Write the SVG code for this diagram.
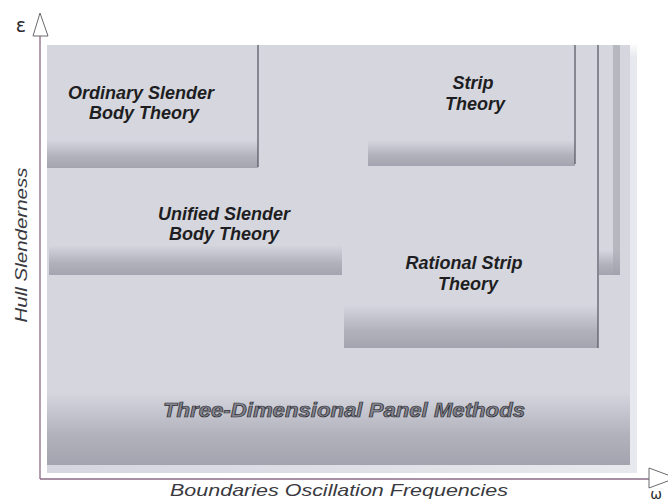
<svg xmlns="http://www.w3.org/2000/svg" width="668" height="501" viewBox="0 0 668 501">
<defs>
<linearGradient id="band" x1="0" y1="0" x2="0" y2="1">
<stop offset="0" stop-color="#a7a8b2" stop-opacity="0"/>
<stop offset="0.6" stop-color="#a7a8b2" stop-opacity="0.8"/>
<stop offset="1" stop-color="#a0a1ac" stop-opacity="0.95"/>
</linearGradient>
<linearGradient id="topfade" x1="0" y1="0" x2="0" y2="1">
<stop offset="0" stop-color="#ffffff" stop-opacity="0.8"/>
<stop offset="1" stop-color="#ffffff" stop-opacity="0"/>
</linearGradient>
<linearGradient id="edge" x1="0" y1="0" x2="1" y2="0">
<stop offset="0" stop-color="#d5d6de"/>
<stop offset="1" stop-color="#e8e9ee"/>
</linearGradient>
</defs>
<style>
.box{fill:#d5d6de}
.lbl{font-family:"Liberation Sans",Arial,sans-serif;font-style:italic;font-weight:bold;font-size:18px;fill:#1e1e22;text-anchor:middle}
.big{font-family:"Liberation Sans",Arial,sans-serif;font-style:italic;font-weight:bold;font-size:20px;fill:#83848e;stroke:#2a2a30;stroke-width:0.7;text-anchor:middle}
.ax{font-family:"Liberation Sans",Arial,sans-serif;font-style:italic;font-size:17px;fill:#3a3a40}
.sym{font-family:"DejaVu Sans","Liberation Sans",sans-serif;fill:#2a2a30}
.edgeline{stroke:#5c5c66;stroke-width:1.3;fill:none}
.axis{stroke:#8a6a86;stroke-width:1.3;fill:none}
.arrow{fill:#ffffff;stroke:#6a6a70;stroke-width:1}
</style>

<g id="panel">
<rect x="47" y="45" width="590" height="428" fill="url(#edge)"/>
<rect x="47" y="45" width="590" height="12" fill="url(#topfade)"/>
</g>

<g id="three-dimensional">
<rect class="box" x="47" y="45" width="583" height="420"/>
<rect x="47" y="392" width="583" height="73" fill="url(#band)"/>
<text class="big" x="344" y="417" textLength="362" lengthAdjust="spacingAndGlyphs">Three-Dimensional Panel Methods</text>
</g>

<g id="rational-strip">
<rect class="box" x="344" y="52" width="254" height="296"/>
<rect x="344" y="305" width="254" height="43" fill="url(#band)"/>
<line class="edgeline" x1="598" y1="45" x2="598" y2="348"/>
<text class="lbl" x="464" y="269">Rational Strip</text>
<text class="lbl" x="468" y="290">Theory</text>
</g>

<g id="narrow-strip">
<rect class="box" x="599" y="45" width="21" height="230"/>
<rect x="613" y="45" width="7" height="230" fill="#a9aab4" opacity="0.7"/>
<rect x="599" y="250" width="21" height="25" fill="url(#band)"/>
</g>

<g id="unified-slender">
<rect class="box" x="49" y="52" width="293" height="223"/>
<rect x="49" y="245" width="293" height="30" fill="url(#band)"/>
<text class="lbl" x="224" y="220">Unified Slender</text>
<text class="lbl" x="224" y="240">Body Theory</text>
</g>

<g id="ordinary-slender">
<rect class="box" x="47" y="52" width="211" height="116"/>
<rect x="47" y="140" width="211" height="28" fill="url(#band)"/>
<line class="edgeline" x1="258" y1="45" x2="258" y2="167"/>
<text class="lbl" x="141" y="99">Ordinary Slender</text>
<text class="lbl" x="144" y="119">Body Theory</text>
</g>

<g id="strip-theory">
<rect class="box" x="368" y="52" width="207" height="114"/>
<rect x="368" y="140" width="207" height="26" fill="url(#band)"/>
<line class="edgeline" x1="575" y1="45" x2="575" y2="164"/>
<text class="lbl" x="473" y="89">Strip</text>
<text class="lbl" x="475" y="110">Theory</text>
</g>

<g id="axes">
<line class="axis" x1="40" y1="36" x2="40" y2="479"/>
<line class="axis" x1="40" y1="479" x2="649" y2="479"/>
<polygon class="arrow" points="33,36 40,13 48,36"/>
<polygon class="arrow" points="649,468 676,478 649,488"/>
</g>

<g id="labels">
<text class="sym" x="21" y="32" style="font-size:19px" text-anchor="middle">ε</text>
<text class="ax" transform="translate(27,245) rotate(-90)" text-anchor="middle" textLength="155" lengthAdjust="spacingAndGlyphs">Hull Slenderness</text>
<text class="ax" x="339" y="496" text-anchor="middle" textLength="338" lengthAdjust="spacingAndGlyphs">Boundaries Oscillation Frequencies</text>
<text class="sym" x="656" y="499" style="font-size:14px" text-anchor="middle">ω</text>
</g>
</svg>
